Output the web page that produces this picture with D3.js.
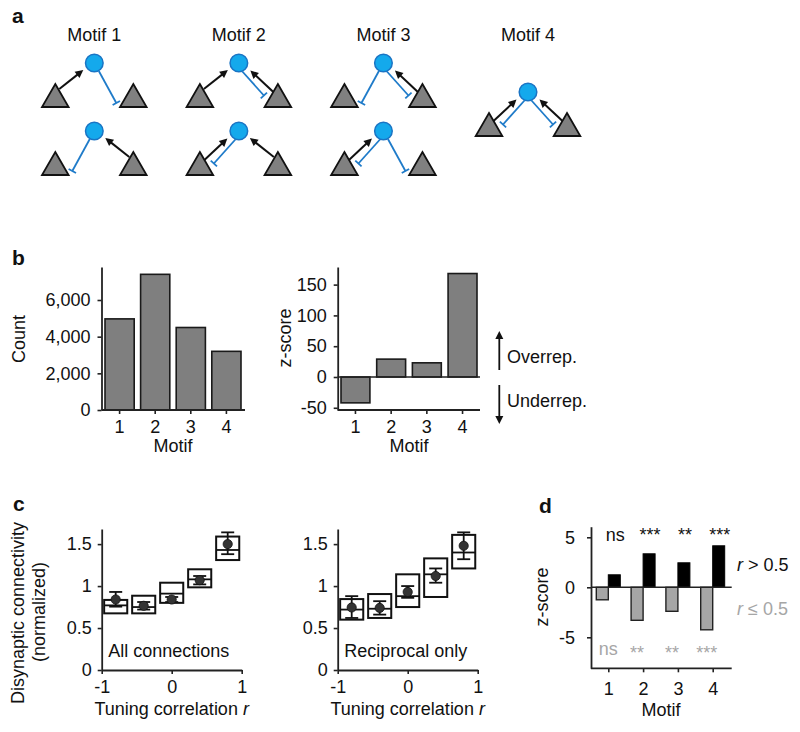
<!DOCTYPE html>
<html><head><meta charset="utf-8">
<script src="https://cdn.jsdelivr.net/npm/d3@7"></script>
<style>
body{margin:0;background:#fff}
svg{display:block}
text{font-family:Arial,"Liberation Sans",sans-serif;fill:#111}
</style>
</head><body>
<svg id="chart" width="800" height="732"></svg>
<script>
// ---------------- DATA ----------------
const motifTitles = ["Motif 1", "Motif 2", "Motif 3", "Motif 4"];
// wiring per motif row: [left connection, right connection]
const motifWiring = [
  [["exc", "inh"], ["inh", "exc"]],
  [["exc", "pair"], ["pair", "exc"]],
  [["inh", "pair"], ["pair", "inh"]],
  [["pair", "pair"]]
];

const motifLabels = ["1", "2", "3", "4"];
const motifCounts = [4970, 7400, 4500, 3200];
const motifZScores = [-42, 29, 23, 168];
const countTicks = [0, 2000, 4000, 6000];
const zTicksB = [-50, 0, 50, 100, 150];

const corrBins = [-0.8, -0.4, 0, 0.4, 0.8];
const corrTicks = [-1, 0, 1];
const connTicks = [0, 0.5, 1, 1.5];
const allMean  = [0.84, 0.765, 0.84, 1.07, 1.50];
const allErrLo = [0.755, 0.72, 0.81, 1.02, 1.38];
const allErrHi = [0.93, 0.81, 0.87, 1.12, 1.64];
const allQ1    = [0.675, 0.675, 0.80, 0.985, 1.31];
const allQ3    = [0.835, 0.885, 1.04, 1.20, 1.59];
const allMed   = [0.77, 0.75, 0.91, 1.08, 1.43];

const recMean  = [0.745, 0.74, 0.93, 1.12, 1.48];
const recErrLo = [0.62, 0.66, 0.86, 1.04, 1.32];
const recErrHi = [0.88, 0.82, 1.00, 1.21, 1.64];
const recQ1    = [0.60, 0.62, 0.75, 0.87, 1.21];
const recQ3    = [0.845, 0.905, 1.14, 1.33, 1.61];
const recMed   = [0.72, 0.73, 0.88, 1.14, 1.40];

const zLow  = [-1.25, -3.3, -2.4, -4.25];   // r <= 0.5
const zHigh = [1.25, 3.35, 2.45, 4.15];     // r > 0.5
const sigHigh = ["ns", "***", "**", "***"];
const sigLow  = ["ns", "**", "**", "***"];
const zTicksD = [-5, 0, 5];

// ---------------- SETUP ----------------
const svg = d3.select("#chart");
const FS = 18;
const AX = "#222";
const BLUE_FILL = "#14a9ec", BLUE_STROKE = "#1a74c4", BLUE_LINE = "#1f7bc9";
const plain = d => String(d);

function label(x, y, s, o = {}) {
  const t = svg.append("text").attr("x", x).attr("y", y)
    .attr("font-size", o.size || FS)
    .attr("text-anchor", o.anchor || "start")
    .text(s);
  if (o.bold) t.attr("font-weight", "bold");
  if (o.fill) t.style("fill", o.fill);
  return t;
}
function vlabel(x, y, s) {
  return svg.append("text").attr("transform", `translate(${x},${y}) rotate(-90)`)
    .attr("font-size", FS).attr("text-anchor", "middle").text(s);
}
function styleAxis(g) {
  g.select(".domain").attr("stroke", AX).attr("stroke-width", 1.8);
  g.selectAll(".tick line").attr("stroke", AX).attr("stroke-width", 1.6);
  g.selectAll(".tick text").attr("font-size", FS).attr("font-family", 'Arial,"Liberation Sans",sans-serif').style("fill", "#111");
}
function hline(x1, x2, y, w = 1.8) {
  svg.append("line").attr("x1", x1).attr("x2", x2).attr("y1", y).attr("y2", y)
    .attr("stroke", AX).attr("stroke-width", w);
}

// ---------------- PANEL LABELS ----------------
label(12, 23, "a", {bold: true, size: 21});
label(12, 265, "b", {bold: true, size: 21});
label(13, 511, "c", {bold: true, size: 21});
label(539, 513, "d", {bold: true, size: 21});

// ---------------- PANEL A: motif diagrams ----------------
const motifX = d3.scalePoint().domain(motifTitles).range([94.3, 528]);
const rowY = [63, 131];
const circR = 8.8, triDX = 39, triApex = 21, triBase = 44, triHalf = 13.3;
const ga = svg.append("g");

function drawArrow(p0, p1) {
  const dx = p1[0] - p0[0], dy = p1[1] - p0[1], L = Math.hypot(dx, dy);
  const ux = dx / L, uy = dy / L, hl = 8, hw = 4;
  const bx = p1[0] - ux * hl, by = p1[1] - uy * hl;
  ga.append("line").attr("x1", p0[0]).attr("y1", p0[1]).attr("x2", bx + ux).attr("y2", by + uy)
    .attr("stroke", "#111").attr("stroke-width", 2);
  ga.append("path").attr("d", `M${p1[0]},${p1[1]}L${bx - uy * hw},${by + ux * hw}L${bx + uy * hw},${by - ux * hw}Z`)
    .attr("fill", "#111");
}
function drawInh(p0, p1) {
  const dx = p1[0] - p0[0], dy = p1[1] - p0[1], L = Math.hypot(dx, dy);
  const ux = dx / L, uy = dy / L, tw = 4.2;
  ga.append("line").attr("x1", p0[0]).attr("y1", p0[1]).attr("x2", p1[0]).attr("y2", p1[1])
    .attr("stroke", BLUE_LINE).attr("stroke-width", 1.8);
  ga.append("line").attr("x1", p1[0] - uy * tw).attr("y1", p1[1] + ux * tw)
    .attr("x2", p1[0] + uy * tw).attr("y2", p1[1] - ux * tw)
    .attr("stroke", BLUE_LINE).attr("stroke-width", 1.8);
}
function drawMotif(cx, cy, wiring) {
  wiring.forEach((type, i) => {
    const s = i === 0 ? -1 : 1;
    const P = (dx, dy) => [cx + s * dx, cy + dy];
    if (type === "exc") drawArrow(P(35, 26), P(11, 7));
    else if (type === "inh") drawInh(P(4.5, 8), P(22, 40));
    else {
      drawArrow(P(35, 29.5), P(11.5, 7.5));
      drawInh(P(3.5, 8.5), P(25, 32.5));
    }
  });
  [-1, 1].forEach(s => {
    const ax = cx + s * triDX;
    ga.append("path")
      .attr("d", `M${ax},${cy + triApex}L${ax + triHalf},${cy + triBase}L${ax - triHalf},${cy + triBase}Z`)
      .attr("fill", "#808080").attr("stroke", "#111").attr("stroke-width", 1.8)
      .attr("stroke-linejoin", "miter");
  });
  ga.append("circle").attr("cx", cx).attr("cy", cy).attr("r", circR)
    .attr("fill", BLUE_FILL).attr("stroke", BLUE_STROKE).attr("stroke-width", 1.5);
}
motifTitles.forEach((m, k) => {
  const cx = motifX(m);
  label(cx, 41, m, {anchor: "middle"});
  const rows = motifWiring[k];
  if (rows.length === 1) drawMotif(cx, 92, rows[0]);
  else rows.forEach((w, r) => drawMotif(cx, rowY[r], w));
});

// ---------------- PANEL B left: counts ----------------
const bTop = 267, bBot = 410;
const xb1 = d3.scaleBand().domain(motifLabels).range([105, 241]).paddingInner(0.18).paddingOuter(0.0);
const yb1 = d3.scaleLinear().domain([0, 7800]).range([bBot, bTop]);
const gb1 = svg.append("g");
gb1.selectAll("rect").data(motifCounts).join("rect")
  .attr("x", (d, i) => xb1(motifLabels[i])).attr("width", xb1.bandwidth())
  .attr("y", d => yb1(d)).attr("height", d => yb1(0) - yb1(d))
  .attr("fill", "#7f7f7f").attr("stroke", "#1a1a1a").attr("stroke-width", 1.6);
const yAx1 = svg.append("g").attr("transform", "translate(101.5,0)")
  .call(d3.axisLeft(yb1).tickValues(countTicks).tickFormat(d3.format(",")).tickSize(4).tickSizeOuter(0).tickPadding(7));
styleAxis(yAx1);
const xAx1 = svg.append("g").attr("transform", `translate(0,${bBot})`)
  .call(d3.axisBottom(xb1).tickSize(4).tickSizeOuter(0).tickPadding(6));
styleAxis(xAx1); xAx1.select(".domain").remove();
hline(101.5, 245, bBot);
vlabel(25, 339, "Count");
label(173, 452, "Motif", {anchor: "middle"});

// ---------------- PANEL B right: z-score ----------------
const xb2 = d3.scaleBand().domain(motifLabels).range([341, 477]).paddingInner(0.19).paddingOuter(0.0);
const yb2 = d3.scaleLinear().domain([-53.6, 178.6]).range([bBot, bTop]);
svg.append("g").selectAll("rect").data(motifZScores).join("rect")
  .attr("x", (d, i) => xb2(motifLabels[i])).attr("width", xb2.bandwidth())
  .attr("y", d => yb2(Math.max(0, d))).attr("height", d => Math.abs(yb2(d) - yb2(0)))
  .attr("fill", "#7f7f7f").attr("stroke", "#1a1a1a").attr("stroke-width", 1.6);
const yAx2 = svg.append("g").attr("transform", "translate(337.7,0)")
  .call(d3.axisLeft(yb2).tickValues(zTicksB).tickFormat(plain).tickSize(4).tickSizeOuter(0).tickPadding(7));
styleAxis(yAx2);
const xAx2 = svg.append("g").attr("transform", `translate(0,${bBot})`)
  .call(d3.axisBottom(xb2).tickSize(4).tickSizeOuter(0).tickPadding(6));
styleAxis(xAx2); xAx2.select(".domain").remove();
hline(337.7, 480, bBot);
hline(337.7, 480, yb2(0), 1.6);
vlabel(291, 338, "z-score");
label(409, 452, "Motif", {anchor: "middle"});

// over/under arrows
function vArrow(x, y0, y1) {
  const dir = Math.sign(y1 - y0);
  svg.append("line").attr("x1", x).attr("x2", x).attr("y1", y0).attr("y2", y1 - dir * 7)
    .attr("stroke", "#111").attr("stroke-width", 1.8);
  svg.append("path").attr("d", `M${x},${y1}L${x - 4},${y1 - dir * 8}L${x + 4},${y1 - dir * 8}Z`).attr("fill", "#111");
}
vArrow(499.3, 370, 331);
vArrow(499.3, 385, 424);
label(507, 363, "Overrep.");
label(507, 407, "Underrep.");

// ---------------- PANEL C ----------------
const cTop = 529, cBot = 670;
const yc = d3.scaleLinear().domain([0, 1.68]).range([cBot, cTop]);
const boxHalf = 0.165;
function corrPanel(x0, mean, lo, hi, q1, q3, med, name) {
  const xc = d3.scaleLinear().domain([-1, 1]).range([x0, x0 + 140]);
  const g = svg.append("g");
  const yA = svg.append("g").attr("transform", `translate(${x0},0)`)
    .call(d3.axisLeft(yc).tickValues(connTicks).tickFormat(plain).tickSize(4).tickSizeOuter(0).tickPadding(6));
  styleAxis(yA);
  const xA = svg.append("g").attr("transform", `translate(0,${cBot})`)
    .call(d3.axisBottom(xc).tickValues(corrTicks).tickFormat(plain).tickSize(4).tickSizeOuter(0).tickPadding(6));
  styleAxis(xA);
  corrBins.forEach((b, i) => {
    const xl = xc(b - boxHalf), xr = xc(b + boxHalf), xm = xc(b);
    g.append("rect").attr("x", xl).attr("width", xr - xl).attr("y", yc(q3[i])).attr("height", yc(q1[i]) - yc(q3[i]))
      .attr("fill", "#fff").attr("stroke", "#111").attr("stroke-width", 2);
    g.append("line").attr("x1", xl).attr("x2", xr).attr("y1", yc(med[i])).attr("y2", yc(med[i]))
      .attr("stroke", "#111").attr("stroke-width", 1.8);
    g.append("line").attr("x1", xm).attr("x2", xm).attr("y1", yc(lo[i])).attr("y2", yc(hi[i]))
      .attr("stroke", "#111").attr("stroke-width", 1.8);
    [lo[i], hi[i]].forEach(v => g.append("line").attr("x1", xm - 6.5).attr("x2", xm + 6.5)
      .attr("y1", yc(v)).attr("y2", yc(v)).attr("stroke", "#111").attr("stroke-width", 1.8));
    g.append("circle").attr("cx", xm).attr("cy", yc(mean[i])).attr("r", 4.6)
      .attr("fill", "#333").attr("stroke", "#111").attr("stroke-width", 0.8);
  });
  label(x0 + 6.5, 657, name);
  const t = label(x0 + 70, 715, "Tuning correlation ", {anchor: "middle"});
  t.append("tspan").attr("font-style", "italic").text("r");
}
corrPanel(101.7, allMean, allErrLo, allErrHi, allQ1, allQ3, allMed, "All connections");
corrPanel(337.7, recMean, recErrLo, recErrHi, recQ1, recQ3, recMed, "Reciprocal only");
vlabel(24, 613, "Disynaptic connectivity");
vlabel(45, 612, "(normalized)");

// ---------------- PANEL D ----------------
const dTop = 526.7, dBot = 668.3, dX0 = 591, dX1 = 731.7;
const xd = d3.scalePoint().domain(motifLabels).range([608.3, 712.7]);
const yd = d3.scaleLinear().domain([-8.1, 6.06]).range([dBot, dTop]);
const bw = 12;
const gd = svg.append("g");
gd.selectAll("rect.low").data(zLow).join("rect").attr("class", "low")
  .attr("x", (d, i) => xd(motifLabels[i]) - bw).attr("width", bw)
  .attr("y", yd(0)).attr("height", d => yd(d) - yd(0))
  .attr("fill", "#a6a6a6").attr("stroke", "#222").attr("stroke-width", 1.4);
gd.selectAll("rect.high").data(zHigh).join("rect").attr("class", "high")
  .attr("x", (d, i) => xd(motifLabels[i])).attr("width", bw)
  .attr("y", d => yd(d)).attr("height", d => yd(0) - yd(d))
  .attr("fill", "#000").attr("stroke", "#000").attr("stroke-width", 1);
const yAd = svg.append("g").attr("transform", `translate(${dX0},0)`)
  .call(d3.axisLeft(yd).tickValues(zTicksD).tickFormat(plain).tickSize(4).tickSizeOuter(0).tickPadding(12));
styleAxis(yAd);
const xAd = svg.append("g").attr("transform", `translate(0,${dBot})`)
  .call(d3.axisBottom(xd).tickSize(4).tickSizeOuter(0).tickPadding(10));
styleAxis(xAd); xAd.select(".domain").remove();
hline(dX0, dX1, dBot);
hline(dX0, dX1, yd(0), 1.6);
sigHigh.forEach((s, i) => label(xd(motifLabels[i]) + bw / 2 + 1, 541, s, {anchor: "middle"}));
sigLow.forEach((s, i) => label(xd(motifLabels[i]) - bw / 2 + (s === "ns" ? 6 : 0), s === "ns" ? 655 : 659, s, {anchor: "middle", fill: "#a6a6a6"}));
vlabel(548, 597, "z-score");
label(661, 716, "Motif", {anchor: "middle"});
const l1 = label(737, 571, "", {});
l1.append("tspan").attr("font-style", "italic").text("r");
l1.append("tspan").text(" > 0.5");
const l2 = label(737, 615, "", {fill: "#a6a6a6"});
l2.append("tspan").attr("font-style", "italic").text("r");
l2.append("tspan").text(" \u2264 0.5");
</script>
</body></html>
